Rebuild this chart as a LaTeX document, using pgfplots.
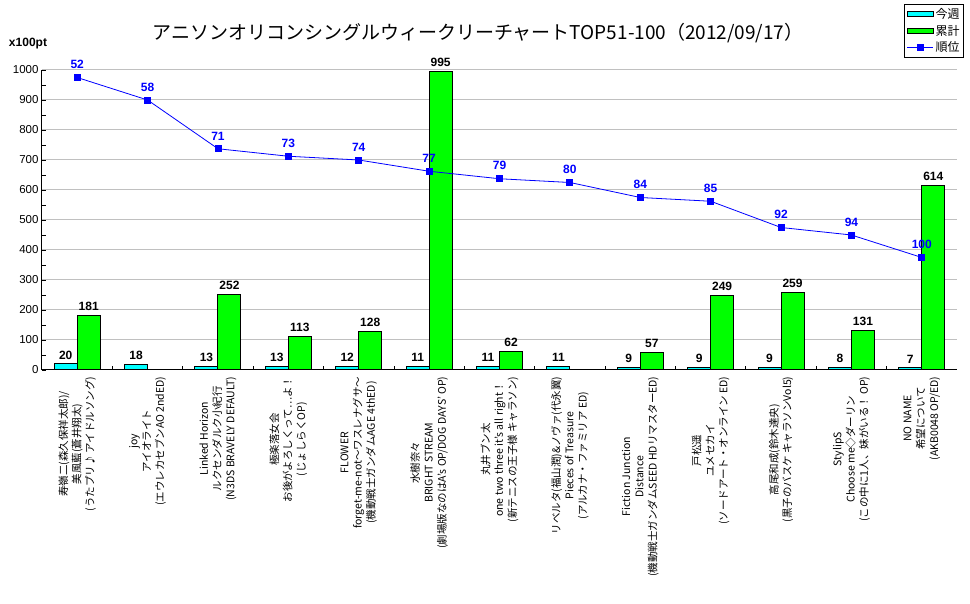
\documentclass[border=0pt]{standalone}
\usepackage{fontspec}
\usepackage{pgfplots}
\pgfplotsset{compat=1.18}
\setmainfont{Noto Sans CJK JP}
\newfontfamily\numfont{Liberation Sans}
\definecolor{cw}{RGB}{0,255,255}
\definecolor{cg}{RGB}{0,255,0}
\definecolor{cb}{RGB}{0,0,255}
\definecolor{gridc}{RGB}{192,192,192}
\pgfplotsset{/pgf/number format/assume math mode=true, /pgf/number format/1000 sep={}}
\begin{document}
\begin{tikzpicture}
\path[use as bounding box] (0pt,0pt) rectangle (970pt,604pt);
\node[font=\fontsize{19}{21}\selectfont] at (478pt,571pt) {アニソンオリコンシングルウィークリーチャートTOP51-100（2012/09/17）};
\node[font=\numfont\bfseries\fontsize{12}{13}\selectfont] at (28pt,560pt) {x100pt};
\begin{axis}[
  at={(42pt,234pt)}, anchor=south west,
  scale only axis, width=915pt, height=300pt,
  xmin=-0.5, xmax=12.5, ymin=0, ymax=1000,
  ybar=0pt, bar width=23pt,
  clip=false,
  axis x line*=bottom, axis y line*=left,
  axis line style={-, black, line width=1pt},
  ymajorgrids, major grid style={gridc, line width=1pt},
  ytick={0,100,...,1000}, minor y tick num=1,
  tick align=inside, major tick length=4pt, minor tick length=4pt,
  tick style={black, line width=0.8pt},
  yticklabel style={font=\numfont\fontsize{11.5}{12}\selectfont},
  xtick={0,...,12},
  major x tick style={draw=none},
  minor xtick={0.5,1.5,...,11.5},
  xticklabel style={rotate=90, anchor=east, align=center, font=\fontsize{10.5}{13.3}\selectfont},
  xticklabel shift=3pt,
  xticklabels={
    {寿嶺二(森久保祥太郎)/\\美風藍(蒼井翔太)\\(うたプリ♪ アイドルソング)},
    {joy\\アイオライト\\(エウレカセブンAO 2ndED)},
    {Linked Horizon\\ルクセンダルク小紀行\\(N3DS BRAVELY DEFAULT)},
    {極楽落女会\\お後がよろしくって…よ！\\(じょしらくOP)},
    {FLOWER\\forget-me-not～ワスレナグサ～\\(機動戦士ガンダムAGE 4thED)},
    {水樹奈々\\BRIGHT STREAM\\(劇場版なのはA's OP/DOG DAYS' OP)},
    {丸井ブン太\\one two three it's all right！\\(新テニスの王子様 キャラソン)},
    {リベルタ(福山潤)\&ノヴァ(代永翼)\\Pieces of Treasure\\(アルカナ・ファミリア ED)},
    {Fiction Junction\\Distance\\(機動戦士ガンダムSEED HDリマスターED)},
    {戸松遥\\ユメセカイ\\(ソードアート・オンライン ED)},
    {高尾和成(鈴木達央)\\(黒子のバスケ キャラソンVol5)},
    {StylipS\\Choose me◇ダーリン\\(この中に1人、妹がいる！ OP)},
    {NO NAME\\希望について\\(AKB0048 OP/ED)}
  },
  nodes near coords,
  every node near coord/.append style={font=\numfont\bfseries\fontsize{12}{13}\selectfont, text=black, yshift=1pt},
  legend style={at={(1.0077,1.22)}, anchor=north east, draw=black, line width=1pt,
    font=\fontsize{12}{14}\selectfont, inner xsep=2pt, inner ysep=2pt, row sep=1pt,
    cells={anchor=west}},
]
\addplot[fill=cw, draw=black, line width=1pt,
  legend image code/.code={\draw[fill=cw, draw=black, line width=0.8pt] (0pt,-2.5pt) rectangle (26pt,2.5pt);}]
  coordinates {(0,20) (1,18) (2,13) (3,13) (4,12) (5,11) (6,11) (7,11) (8,9) (9,9) (10,9) (11,8) (12,7)};
\addlegendentry{今週}
\addplot[fill=cg, draw=black, line width=1pt,
  legend image code/.code={\draw[fill=cg, draw=black, line width=0.8pt] (0pt,-2.5pt) rectangle (26pt,2.5pt);}]
  coordinates {(0,181) (2,252) (3,113) (4,128) (5,995) (6,62) (8,57) (9,249) (10,259) (11,131) (12,614)};
\addlegendentry{累計}
\addlegendimage{legend image code/.code={\draw[cb, line width=0.8pt] (0pt,0pt) -- (26pt,0pt); \fill[cb] (10pt,-3pt) rectangle (16pt,3pt);}}
\addlegendentry{順位}
\end{axis}
\begin{axis}[
  at={(42pt,234pt)}, anchor=south west,
  scale only axis, width=915pt, height=300pt,
  xmin=-0.5, xmax=12.5, ymin=50, ymax=130, y dir=reverse,
  hide axis, clip=false,
]
\addplot[cb, line width=0.8pt, mark=square*, mark size=3pt,
  nodes near coords,
  every node near coord/.append style={font=\numfont\bfseries\fontsize{12}{13}\selectfont, text=cb, yshift=5pt}]
  coordinates {(0,52) (1,58) (2,71) (3,73) (4,74) (5,77) (6,79) (7,80) (8,84) (9,85) (10,92) (11,94) (12,100)};
\end{axis}
\end{tikzpicture}
\end{document}
